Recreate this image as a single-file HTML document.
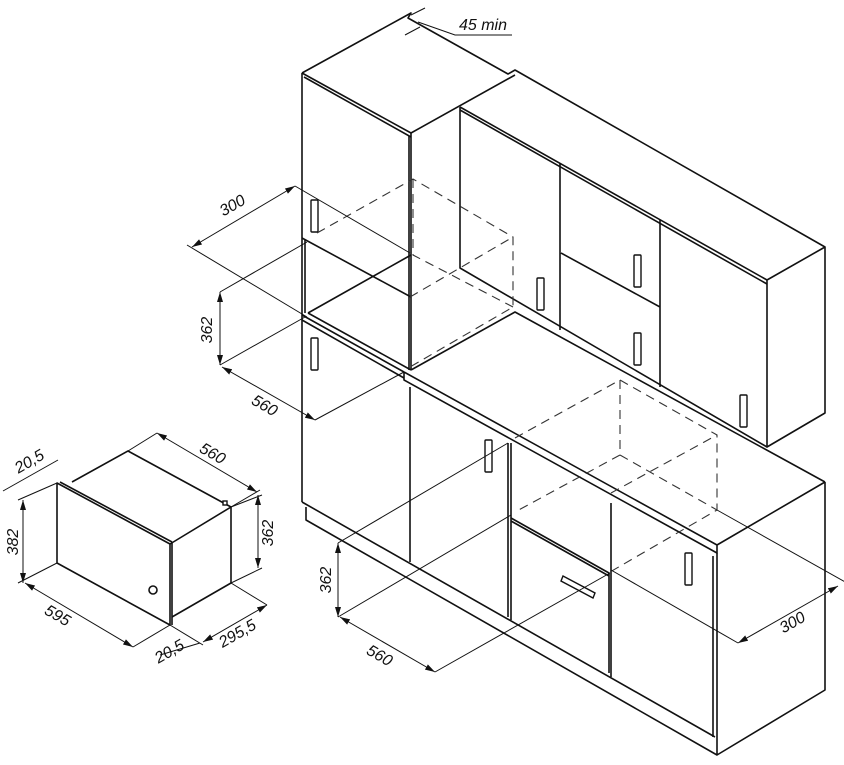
<!DOCTYPE html>
<html><head><meta charset="utf-8"><style>
html,body{margin:0;padding:0;background:#fff;width:844px;height:765px;overflow:hidden}
svg{display:block}
text{font-family:"Liberation Sans",sans-serif;font-style:italic;font-size:16px;fill:#111}
</style></head><body>
<svg width="844" height="765" viewBox="0 0 844 765" xmlns="http://www.w3.org/2000/svg">
<defs><marker id="a" viewBox="0 0 10 6" refX="10" refY="3" markerWidth="10" markerHeight="6" orient="auto-start-reverse"><path d="M0,0L10,3L0,6z" fill="#111"/></marker></defs>
<g fill="none" stroke="#111" stroke-width="1.6" stroke-linejoin="round">
<path d="M302,73 L411,13 L408,18 L508,74 L515,70 L825,247 L825,413 L767,447 L767,280 L825,247"/>
<path d="M302,73 L411,133 L515,75"/>
<path d="M304,77 L411,137"/>
<path d="M302,73 L302,502"/>
<path d="M411,133 L411,370"/>
<path d="M409,136 L409,370"/>
<path d="M302,238 L411,297"/>
<path d="M308,313 L411,370 M308,313 L411,255"/>
<path d="M305,240 L305,313"/>
<path d="M460,107 L767,280 M460,110 L767,284"/>
<path d="M460,107 L460,268 L767,447"/>
<path d="M560,163 L560,330 M660,220 L660,387 M561,253 L660,307"/>
<path d="M302,315 L404,372 M302,320 L404,378"/>
<path d="M411,370 L515,312 L825,482"/>
<path d="M404,372 L717,545 L825,482 M404,372 L404,380 L717,553 L717,545"/>
<path d="M717,553 L717,755 L825,690 L825,482"/>
<path d="M302,502 L715,737 M306,507 L306,520 L717,755"/>
<path d="M410,387 L410,562 M508,443 L508,617 M511,443 L511,620"/>
<path d="M511,518 L609,573 L609,673 M511,521 L609,576"/>
<path d="M611,503 L611,677 M713,556 L713,737"/>
<path d="M57,483 L170,544 L170,625 L57,563 Z"/>
<path d="M60,482 L172,542 M172,542 L172,625"/>
<path d="M72,482 L128,451 L231,507 L231,583 L172,617"/>
<path d="M170,544 L231,507"/>
<circle cx="153" cy="590" r="4"/>
</g>
<g fill="#fff" stroke="#111" stroke-width="1.4">
<rect x="311" y="200" width="7" height="32" rx="1"/>
<rect x="311" y="338" width="7" height="32" rx="1"/>
<rect x="537" y="278" width="7" height="32" rx="1"/>
<rect x="634" y="255" width="7" height="32" rx="1"/>
<rect x="634" y="333" width="7" height="32" rx="1"/>
<rect x="740" y="395" width="7" height="32" rx="1"/>
<rect x="485" y="440" width="7" height="32" rx="1"/>
<rect x="685" y="553" width="7" height="32" rx="1"/>
<path d="M563,576 L595,593 L593,598 L561,581 Z"/>
<rect x="223" y="501" width="4" height="4"/>
</g>
<g fill="none" stroke="#333" stroke-width="1.1" stroke-dasharray="9,6">
<path d="M317,233 L413,179 L513,237 L513,307 L410,367"/>
<path d="M413,179 L413,255 L513,307 M410,297 L513,237"/>
<path d="M515,438 L620,380 L717,435 L717,510 L610,572"/>
<path d="M620,380 L620,455 L717,510 M620,455 L515,512 M611,493 L717,435"/>
</g>
<g fill="none" stroke="#111" stroke-width="1">
<path d="M187,245 L307,317 M295,186 L410,253"/>
<path d="M192,247 L295,186" marker-start="url(#a)" marker-end="url(#a)"/>
<path d="M220,292 L307,242 M220,365 L305,317"/>
<path d="M220,292 L220,365" marker-start="url(#a)" marker-end="url(#a)"/>
<path d="M222,367 L315,420" marker-start="url(#a)" marker-end="url(#a)"/>
<path d="M315,420 L404,372"/>
<path d="M338,543 L508,443 M338,617 L511,515 M435,672 L610,573"/>
<path d="M338,543 L338,617" marker-start="url(#a)" marker-end="url(#a)"/>
<path d="M340,617 L435,672" marker-start="url(#a)" marker-end="url(#a)"/>
<path d="M611,570 L738,643 M717,510 L847,583"/>
<path d="M738,643 L838,586" marker-start="url(#a)" marker-end="url(#a)"/>
<path d="M411,15 L425,8 M405,35 L420,27 M418,22 L455,35 L512,35"/>
<path d="M128,451 L157,433 M231,507 L260,490"/>
<path d="M157,433 L257,492" marker-start="url(#a)" marker-end="url(#a)"/>
<path d="M231,507 L262,495 M231,583 L262,568"/>
<path d="M258,495 L258,568" marker-start="url(#a)" marker-end="url(#a)"/>
<path d="M57,483 L18,500 M57,563 L18,583"/>
<path d="M23,500 L23,583" marker-start="url(#a)" marker-end="url(#a)"/>
<path d="M25,583 L133,647" marker-start="url(#a)" marker-end="url(#a)"/>
<path d="M133,647 L170,625"/>
<path d="M3,491 L58,460"/>
<path d="M170,625 L203,645 M231,583 L267,605"/>
<path d="M203,642 L267,605" marker-start="url(#a)" marker-end="url(#a)"/>
<path d="M160,655 L200,643"/>
</g>
<text x="235" y="210" transform="rotate(-30 235 210)" text-anchor="middle">300</text>
<text x="212" y="330" transform="rotate(-90 212 330)" text-anchor="middle">362</text>
<text x="262" y="410" transform="rotate(30 262 410)" text-anchor="middle">560</text>
<text x="331" y="580" transform="rotate(-90 331 580)" text-anchor="middle">362</text>
<text x="377" y="660" transform="rotate(30 377 660)" text-anchor="middle">560</text>
<text x="795" y="627" transform="rotate(-30 795 627)" text-anchor="middle">300</text>
<text x="483" y="30" font-size="13" text-anchor="middle">45 min</text>
<text x="210" y="458" transform="rotate(30 210 458)" text-anchor="middle">560</text>
<text x="273" y="533" transform="rotate(-90 273 533)" text-anchor="middle">362</text>
<text x="18" y="542" transform="rotate(-90 18 542)" text-anchor="middle">382</text>
<text x="55" y="620" transform="rotate(30 55 620)" text-anchor="middle">595</text>
<text x="32" y="466" font-size="14" transform="rotate(-30 32 466)" text-anchor="middle">20,5</text>
<text x="172" y="656" font-size="14" transform="rotate(-30 172 656)" text-anchor="middle">20,5</text>
<text x="240" y="638" transform="rotate(-30 240 638)" text-anchor="middle">295,5</text>
</svg>
</body></html>
